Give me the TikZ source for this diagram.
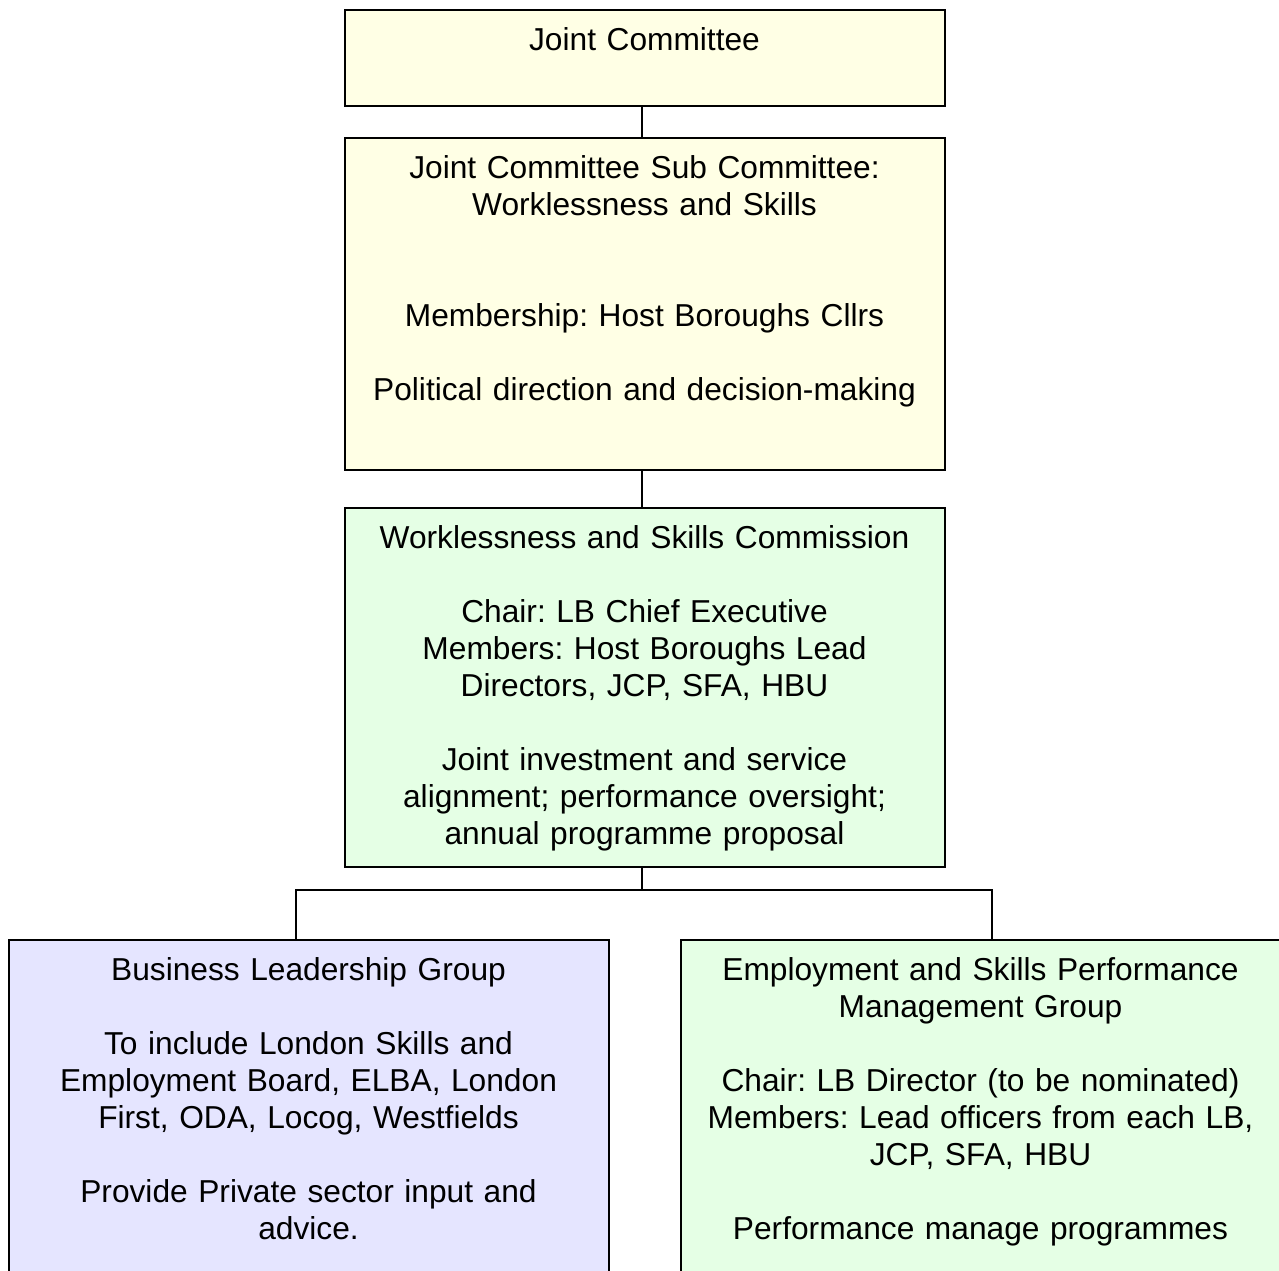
\documentclass[tikz,border=0pt]{standalone}
\usepackage{fontspec}
\setmainfont{Liberation Sans}
\frenchspacing
\usetikzlibrary{calc}
\definecolor{pyellow}{RGB}{255,255,229}
\definecolor{pgreen}{RGB}{229,255,229}
\definecolor{pblue}{RGB}{229,229,255}
\tikzset{
  orgbox/.style={draw=black, line width=1pt, fill=#1, anchor=north west,
    text width=300pt, align=center, inner sep=0pt, text height=20pt,
    font=\fontsize{15.85pt}{18.5pt}\selectfont\frenchspacing},
  link/.style={draw=black, line width=1pt}
}
\begin{document}
\begin{tikzpicture}[x=0.5pt, y=-0.5pt]
\useasboundingbox (0,0) rectangle (1279,1270);
\clip (0,0) rectangle (1279,1270);
\fill[white] (0,0) rectangle (1279,1270);

\node[orgbox=pyellow, text depth=28pt] (jc) at (343.5,9) {Joint Committee};

\node[orgbox=pyellow, text depth=166pt-20pt] (sub) at (343.5,137)
  {Joint Committee Sub Committee:\\ Worklessness and Skills\\~\\~\\
   Membership: Host Boroughs Cllrs\\~\\
   Political direction and decision-making};

\node[orgbox=pgreen, text depth=159.5pt] (wsc) at (343.5,507)
  {Worklessness and Skills Commission\\~\\
   Chair: LB Chief Executive\\
   Members: Host Boroughs Lead\\ Directors, JCP, SFA, HBU\\~\\
   Joint investment and service\\ alignment; performance oversight;\\
   annual programme proposal};

\node[orgbox=pblue, text depth=200pt] (blg) at (7.5,939)
  {Business Leadership Group\\~\\
   To include London Skills and\\ Employment Board, ELBA, London\\
   First, ODA, Locog, Westfields\\~\\
   Provide Private sector input and\\ advice.};

\node[orgbox=pgreen, text depth=200pt] (espm) at (679.5,939)
  {Employment and Skills Performance\\ Management Group\\~\\
   Chair: LB Director (to be nominated)\\
   Members: Lead officers from each LB,\\ JCP, SFA, HBU\\~\\
   Performance manage programmes};

\coordinate (spine) at (642,0);
\coordinate (jl) at (296,890);
\coordinate (jr) at (992,890);

\draw[link] (jc.south -| spine) -- (sub.north -| spine);
\draw[link] (sub.south -| spine) -- (wsc.north -| spine);
\draw[link] (wsc.south -| spine) -- (spine |- jl);
\draw[link, line cap=rect] (jl) -- (jr);
\draw[link] (jl) -- (jl |- blg.north);
\draw[link] (jr) -- (jr |- espm.north);
\end{tikzpicture}
\end{document}
